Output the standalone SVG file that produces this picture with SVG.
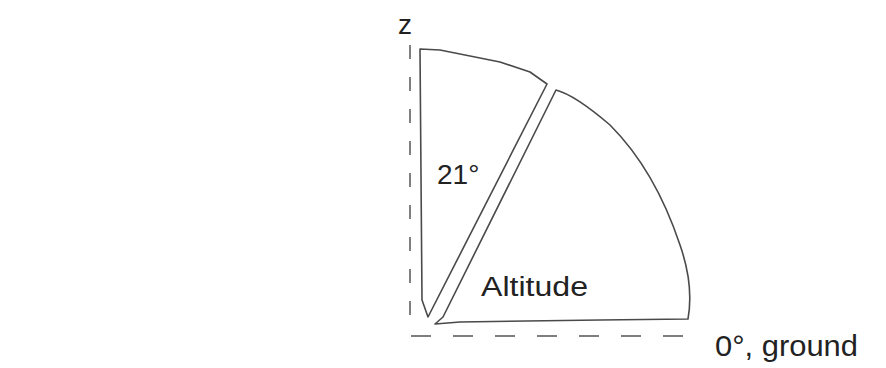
<svg xmlns="http://www.w3.org/2000/svg" width="886" height="368" viewBox="0 0 886 368">
<style>
.ln{fill:none;stroke:#4a4a4a;stroke-width:1.6;stroke-linecap:round;stroke-linejoin:round}
.ax{fill:none;stroke:#555;stroke-width:1.5}
.t{font-family:"Liberation Sans",Arial,sans-serif;fill:#222}
</style>
<rect width="886" height="368" fill="#fff"/>
<g id="connectors">
<line class="ax" x1="410" y1="45" x2="410" y2="330" stroke-dasharray="14,18"/>
<line class="ax" x1="411" y1="336" x2="700" y2="336" stroke-dasharray="20,22"/>
</g>
<g id="wedge-zenith">
<path class="ln" d="M420,49 L440,50 L500,62 L530,72 L547,84 L428,317 L422,300 L420,49"/>
<text class="t" x="437" y="184" font-size="28">21°</text>
</g>
<g id="wedge-altitude">
<path class="ln" d="M556,90 L443,317 L435,324 L460,322 L600,320 L688,319 Q694,285 680,245 Q655,170 610,125 Q575,95 556,90 Z"/>
<text class="t" x="481" y="296" font-size="27" textLength="107" lengthAdjust="spacingAndGlyphs">Altitude</text>
</g>
<g id="label-z"><text class="t" x="398" y="34" font-size="28">z</text></g>
<g id="label-ground"><text class="t" x="715" y="356" font-size="30" textLength="143" lengthAdjust="spacingAndGlyphs">0°, ground</text></g>
</svg>
